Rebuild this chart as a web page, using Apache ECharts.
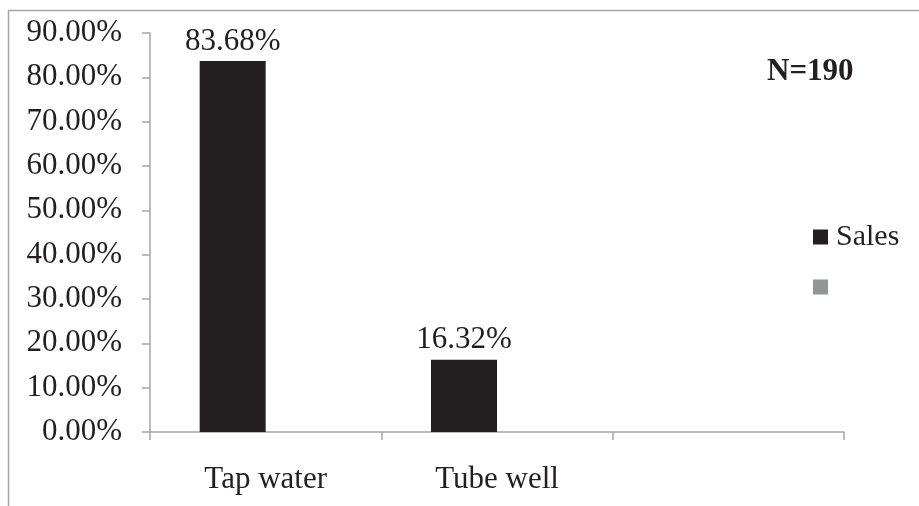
<!DOCTYPE html>
<html><head><meta charset="utf-8">
<script src="https://cdn.jsdelivr.net/npm/echarts@6/dist/echarts.min.js"></script>
<style>html,body{margin:0;padding:0;background:#fff}#c{width:919px;height:506px}</style>
</head><body><div id="c"></div>
<script>
const categories = ['Tap water', 'Tube well', ''];
const salesValues = [83.68, 16.32, null];
const blankValues = [null, null, null];
const yTicks = { min: 0, max: 90, interval: 10 };
const noteText = 'N=190';

const font = '"Liberation Serif", "Times New Roman", serif';
const chart = echarts.init(document.getElementById('c'), null, { renderer: 'canvas' });
chart.setOption({
  backgroundColor: '#fff',
  animation: false,
  grid: { left: 150, right: 75, top: 33, bottom: 74, containLabel: false },
  graphic: [
    { type: 'line', shape: { x1: 8.5, y1: 10, x2: 8.5, y2: 506 }, style: { stroke: '#a6a6a6', lineWidth: 1.5 } },
    { type: 'line', shape: { x1: 8, y1: 10.5, x2: 919, y2: 10.5 }, style: { stroke: '#a6a6a6', lineWidth: 1.5 } },
    { type: 'text', left: 767, top: 56, style: { text: noteText, font: 'bold 31px ' + font, fill: '#231f20' } }
  ],
  legend: {
    orient: 'vertical', left: 808, top: 217,
    itemWidth: 15, itemHeight: 15, itemGap: 20,
    itemStyle: { borderWidth: 0 },
    icon: 'rect',
    textStyle: { fontFamily: font, fontSize: 30, color: '#231f20', padding: [0, 0, 0, 3] },
    data: ['Sales', ' ']
  },
  xAxis: {
    type: 'category', data: categories,
    axisLine: { lineStyle: { color: '#a6a6a6', width: 1.5 } },
    axisTick: { show: true, length: 8, lineStyle: { color: '#a6a6a6', width: 1.5 } },
    axisLabel: { fontFamily: font, fontSize: 31, color: '#231f20', margin: 32 }
  },
  yAxis: {
    type: 'value', min: yTicks.min, max: yTicks.max, interval: yTicks.interval,
    splitLine: { show: false },
    axisLine: { show: true, lineStyle: { color: '#a6a6a6', width: 1.5 } },
    axisTick: { show: true, length: 8, lineStyle: { color: '#a6a6a6', width: 1.5 } },
    axisLabel: { fontFamily: font, fontSize: 31, color: '#231f20', margin: 28,
      formatter: v => v.toFixed(2) + '%' }
  },
  series: [
    { name: 'Sales', type: 'bar', data: salesValues, barWidth: 66, barGap: '0%',
      itemStyle: { color: '#231f20' },
      label: { show: true, position: 'top', distance: 4, fontFamily: font, fontSize: 31, color: '#231f20',
        formatter: p => p.value.toFixed(2) + '%' } },
    { name: ' ', type: 'bar', data: blankValues, barWidth: 66, barGap: '0%',
      itemStyle: { color: '#939598' } }
  ]
});
</script></body></html>
